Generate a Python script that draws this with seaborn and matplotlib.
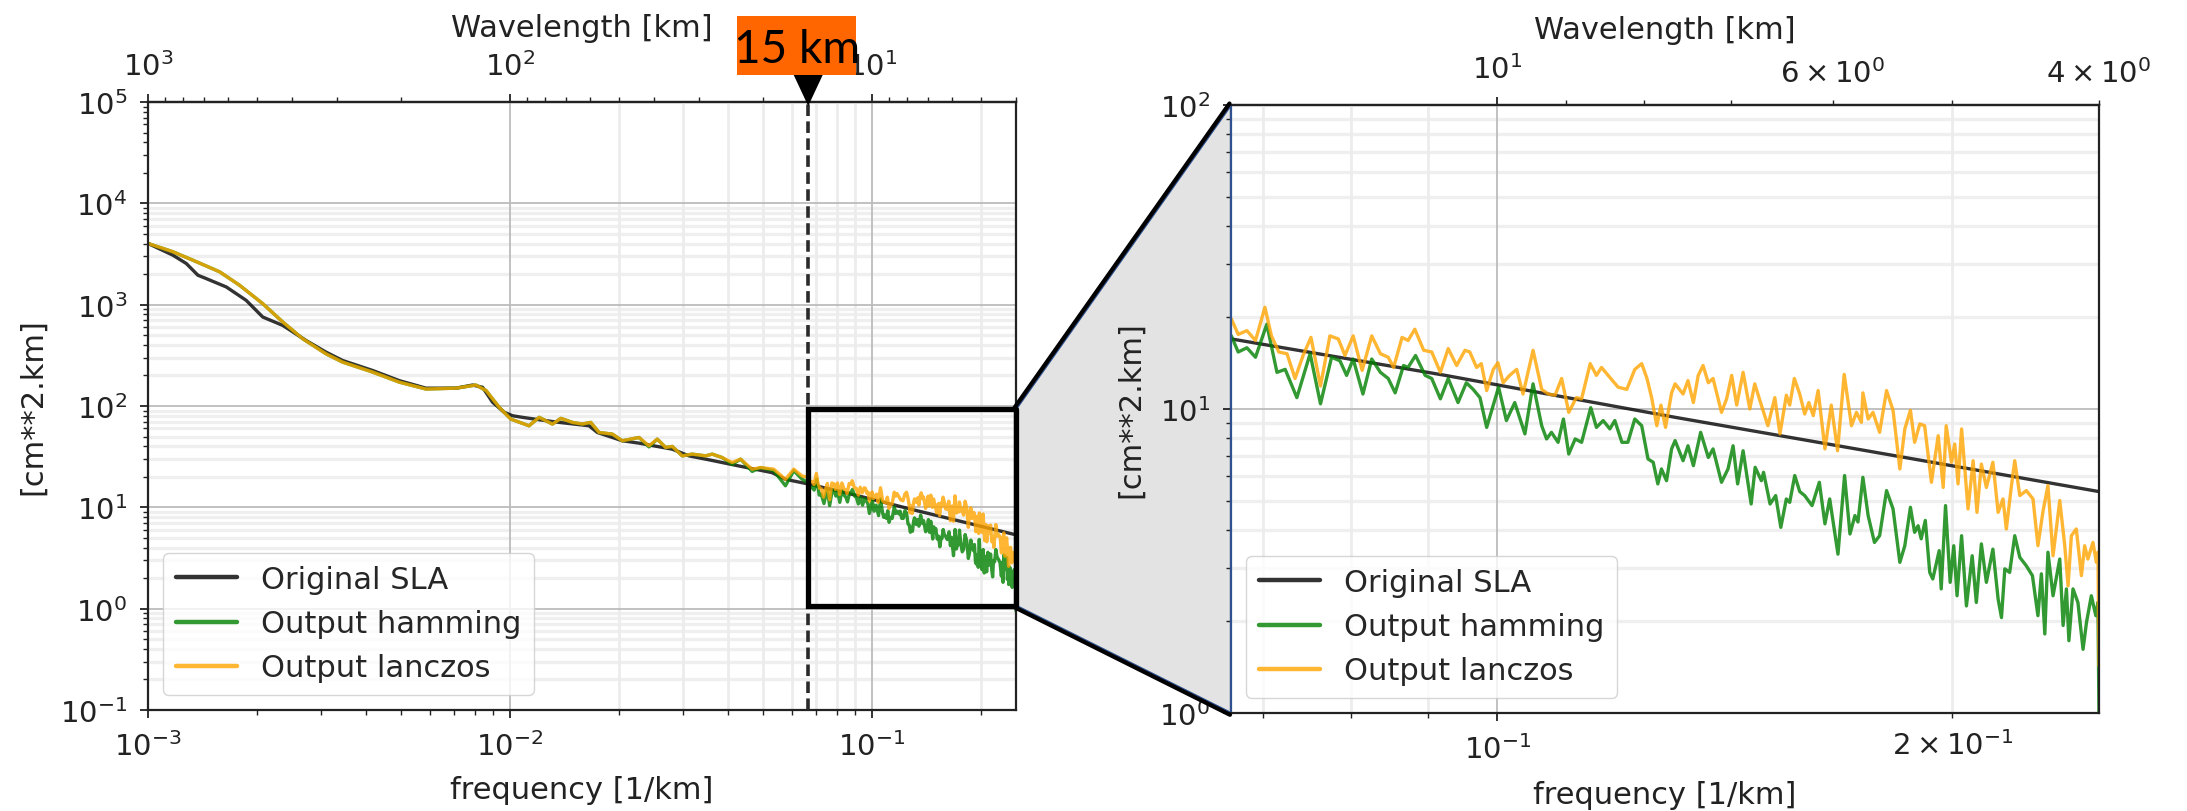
import numpy as np
import pandas as pd
import matplotlib
matplotlib.use("Agg")
import matplotlib.pyplot as plt
import seaborn as sns
from matplotlib.patches import Polygon, Rectangle
from matplotlib.lines import Line2D

# ---------------------------------------------------------------- data
series_names = ["Original SLA", "Output hamming", "Output lanczos"]
series_colors = ["black", "green", "orange"]

sla_freq = [1.0e-3, 1.172e-3, 1.276e-3, 1.374e-3, 1.449e-3, 1.645e-3, 1.867e-3,
            2.075e-3, 2.357e-3, 2.733e-3, 3.104e-3, 3.45e-3, 4.177e-3, 4.945e-3,
            5.861e-3, 7.096e-3, 7.88e-3, 8.40e-3, 8.95e-3, 9.64e-3, 1.016e-2,
            1.082e-2, 1.204e-2, 1.367e-2, 1.654e-2, 1.743e-2, 2.043e-2, 2.272e-2,
            2.807e-2, 3.122e-2, 3.471e-2, 4.289e-2, 5.297e-2, 5.768e-2, 0.0667,
            0.0924, 0.1311, 0.1832, 0.25]
sla_psd = [4018, 3076, 2547, 1951, 1807, 1496, 1104, 755, 624, 443, 340, 281, 224,
           178, 150, 150, 161, 153, 109, 86.7, 80.2, 77.3, 73.2, 68.9, 63.8, 54.8,
           45.4, 43.0, 37.5, 32.2, 29.9, 25.6, 22.0, 18.9, 17.0, 12.9, 9.39, 7.02, 5.35]

filtered_freq_low = [1.0e-3, 1.172e-3, 1.33e-3, 1.578e-3, 1.791e-3, 2.075e-3, 2.357e-3,
                     2.678e-3, 3.104e-3, 3.45e-3, 4.177e-3, 4.945e-3, 5.861e-3, 7.096e-3,
                     8.05e-3, 8.59e-3, 9.34e-3, 1.005e-2, 1.129e-2, 1.204e-2, 1.256e-2,
                     1.31e-2, 1.382e-2, 1.487e-2, 1.585e-2, 1.671e-2, 1.762e-2, 1.918e-2,
                     2.043e-2, 2.272e-2, 2.421e-2, 2.552e-2, 2.692e-2, 2.807e-2, 2.992e-2,
                     3.187e-2, 3.471e-2, 3.62e-2, 3.857e-2, 4.11e-2, 4.335e-2, 4.667e-2,
                     4.921e-2, 5.355e-2, 5.768e-2, 6.081e-2, 6.409e-2]
lanczos_psd_low = [4018, 3327, 2748, 2108, 1553, 1023, 674, 460, 327, 271, 216, 172,
                   147, 150, 161, 142, 97, 74.3, 63.8, 77.3, 71.6, 66.3, 75.5, 68.9,
                   66.3, 68.9, 54.8, 52.8, 45.4, 48.9, 40.5, 47.1, 39.0, 39.9, 32.2,
                   33.5, 32.2, 33.5, 31.0, 27.7, 29.9, 23.8, 24.7, 23.8, 18.9, 23.8, 20.4]
hamming_psd_low = [4018, 3327, 2748, 2108, 1553, 1023, 674, 460, 327, 271, 216, 172,
                   147, 150, 161, 142, 97, 74.3, 63.8, 77.3, 71.6, 66.3, 75.5, 68.9,
                   66.3, 68.9, 54.8, 52.8, 45.4, 48.9, 39.5, 47.1, 39.0, 39.9, 32.2,
                   33.5, 32.2, 33.5, 31.0, 26.5, 29.9, 22.6, 24.7, 23.0, 16.3, 23.0, 19.0]

lanczos_freq_high = [0.0667, 0.0674, 0.0683, 0.0692, 0.0702, 0.0709, 0.0717, 0.0726, 0.0735,
    0.0744, 0.0753, 0.0764, 0.0775, 0.0785, 0.0793, 0.0803, 0.0814, 0.0826, 0.0837, 0.0847,
    0.0854, 0.0865, 0.0873, 0.0882, 0.0894, 0.0905, 0.0917, 0.0928, 0.0940, 0.0952, 0.0959,
    0.0969, 0.0976, 0.0984, 0.0994, 0.1001, 0.1009, 0.1019, 0.1030, 0.1040, 0.1056, 0.1070,
    0.1081, 0.1092, 0.1103, 0.1115, 0.1128, 0.1137, 0.1152, 0.1163, 0.1172, 0.1187, 0.1202,
    0.1218, 0.1233, 0.1246, 0.1256, 0.1265, 0.1275, 0.1283, 0.1292, 0.1304, 0.1311, 0.1327,
    0.1337, 0.1348, 0.1358, 0.1368, 0.1379, 0.1389, 0.1407, 0.1418, 0.1429, 0.1440, 0.1454,
    0.1469, 0.1480, 0.1495, 0.1510, 0.1526, 0.1538, 0.1553, 0.1561, 0.1572, 0.1585, 0.1597,
    0.1607, 0.1618, 0.1630, 0.1647, 0.1663, 0.1679, 0.1696, 0.1715, 0.1728, 0.1741, 0.1745,
    0.1759, 0.1772, 0.1790, 0.1809, 0.1827, 0.1846, 0.1860, 0.1876, 0.1888, 0.1903, 0.1917,
    0.1937, 0.1957, 0.1972, 0.1981, 0.1997, 0.2007, 0.2017, 0.2028, 0.2048, 0.2064, 0.2076,
    0.2090, 0.2106, 0.2127, 0.2144, 0.2160, 0.2171, 0.2188, 0.2199, 0.2216, 0.2238, 0.2261,
    0.2278, 0.2296, 0.2313, 0.2331, 0.2355, 0.2373, 0.2385, 0.2397, 0.2415, 0.2434, 0.2446,
    0.2458, 0.2477, 0.2490, 0.2496, 0.2500]
lanczos_psd_high = [19.8, 17.6, 18.1, 16.8, 21.6, 17.4, 15.4, 15.2, 12.6, 15.0, 17.2, 11.9,
    17.4, 17.0, 15.0, 17.4, 13.4, 17.4, 15.2, 14.8, 13.7, 17.2, 16.8, 18.3, 15.6, 15.4, 13.2,
    15.8, 13.9, 15.6, 15.4, 13.7, 14.1, 11.5, 13.5, 14.2, 12.2, 12.9, 13.5, 11.2, 15.6, 11.6,
    11.2, 11.1, 12.6, 9.75, 10.9, 10.8, 14.1, 12.9, 13.7, 12.7, 11.8, 11.6, 13.5, 14.1, 12.6,
    10.9, 8.81, 10.3, 8.70, 11.3, 12.1, 11.2, 12.4, 10.5, 12.9, 13.9, 12.2, 12.6, 9.75, 10.8,
    12.9, 10.3, 13.2, 10.0, 12.1, 10.3, 8.81, 10.9, 8.28, 11.1, 10.3, 12.6, 11.2, 9.63, 10.5,
    9.51, 11.5, 7.39, 10.3, 7.29, 13.0, 8.81, 9.75, 9.04, 11.3, 9.27, 9.75, 8.38, 11.5, 9.9,
    6.35, 8.60, 9.9, 7.77, 8.93, 8.81, 5.74, 8.17, 5.52, 8.81, 6.68, 7.67, 5.67, 8.60, 4.69,
    6.76, 4.57, 6.59, 5.52, 6.68, 4.57, 5.06, 4.03, 5.60, 6.76, 5.19, 5.39, 5.06, 3.55, 4.63,
    5.60, 3.29, 5.0, 3.55, 2.62, 3.83, 4.03, 2.83, 3.55, 3.21, 3.64, 3.13, 3.38, 1.43]

hamming_freq_high = [0.0667, 0.0674, 0.0683, 0.0692, 0.0704, 0.0715, 0.0724, 0.0737, 0.0752,
    0.0764, 0.0777, 0.0787, 0.0795, 0.0803, 0.0815, 0.0826, 0.0837, 0.0847, 0.0856, 0.0867,
    0.0873, 0.0883, 0.0896, 0.0905, 0.0917, 0.0928, 0.0942, 0.0954, 0.0964, 0.0974, 0.0984,
    0.1002, 0.1014, 0.1027, 0.1043, 0.1056, 0.1070, 0.1078, 0.1086, 0.1097, 0.1106, 0.1115,
    0.1126, 0.1137, 0.1153, 0.1163, 0.1175, 0.1187, 0.1196, 0.1209, 0.1220, 0.1233, 0.1246,
    0.1258, 0.1268, 0.1277, 0.1284, 0.1294, 0.1304, 0.1311, 0.1327, 0.1337, 0.1348, 0.1363,
    0.1379, 0.1389, 0.1407, 0.1421, 0.1432, 0.1442, 0.1454, 0.1472, 0.1481, 0.1495, 0.1500,
    0.1515, 0.1528, 0.1540, 0.1553, 0.1561, 0.1573, 0.1585, 0.1597, 0.1615, 0.1633, 0.1647,
    0.1659, 0.1680, 0.1697, 0.1711, 0.1724, 0.1732, 0.1745, 0.1759, 0.1776, 0.1790, 0.1809,
    0.1827, 0.1846, 0.1860, 0.1876, 0.1888, 0.1898, 0.1907, 0.1919, 0.1932, 0.1941, 0.1960,
    0.1966, 0.1979, 0.1993, 0.2004, 0.2014, 0.2028, 0.2043, 0.2061, 0.2074, 0.2090, 0.2106,
    0.2127, 0.2144, 0.2155, 0.2166, 0.2182, 0.2199, 0.2216, 0.2238, 0.2259, 0.2278, 0.2290,
    0.2302, 0.2313, 0.2331, 0.2355, 0.2367, 0.2379, 0.2388, 0.2403, 0.2421, 0.2440, 0.2453,
    0.2471, 0.2488, 0.2496, 0.2500]
hamming_psd_high = [17.4, 15.4, 15.9, 14.8, 19.0, 13.2, 13.5, 10.9, 15.2, 10.4, 14.8, 14.4,
    12.9, 14.6, 11.2, 14.6, 13.2, 12.6, 11.3, 13.9, 13.7, 15.0, 12.9, 12.6, 10.8, 12.6, 10.5,
    12.2, 11.6, 10.9, 8.70, 11.8, 9.16, 10.5, 8.28, 12.1, 8.81, 7.97, 8.38, 7.77, 9.27, 7.11,
    7.97, 7.77, 10.1, 8.70, 9.16, 8.60, 9.16, 7.77, 7.77, 9.27, 8.81, 6.85, 6.68, 5.67, 6.35,
    5.81, 7.39, 7.87, 6.76, 7.57, 6.51, 8.38, 6.93, 7.39, 5.74, 6.35, 7.57, 5.67, 7.29, 4.87,
    6.43, 5.81, 6.19, 4.87, 5.19, 4.08, 5.06, 4.93, 6.04, 5.35, 5.19, 4.81, 5.74, 4.19, 5.06,
    3.33, 6.04, 3.88, 4.46, 4.25, 5.96, 4.46, 3.64, 3.83, 5.39, 4.69, 3.13, 3.55, 4.75, 3.93,
    4.13, 3.74, 4.30, 2.90, 2.76, 3.42, 2.56, 4.81, 2.69, 3.55, 2.43, 3.83, 2.25, 3.29, 2.31,
    3.60, 2.69, 3.46, 2.37, 2.06, 2.98, 2.90, 3.83, 3.25, 3.05, 2.83, 2.09, 2.87, 1.82, 3.38,
    2.43, 3.21, 1.94, 2.56, 1.73, 2.56, 2.31, 1.62, 1.99, 2.43, 2.09, 2.31, 0.95]

cutoff_wavelength = 15.0          # km
cutoff_label = "15 km"
main_freq_lim = (1e-3, 0.25)
main_psd_lim = (1e-1, 1e5)
zoom_freq_lim = (1 / 15, 0.25)
zoom_psd_lim = (1.0, 100.0)
box_psd = (1.07, 93.0)            # drawn zoom box on the left panel

# ---------------------------------------------------------------- frame
sns.set_theme(style="ticks")
plt.rcParams["font.family"] = ["DejaVu Sans"]
plt.rcParams["mathtext.fontset"] = "dejavusans"

W, H = 2187, 812
fig = plt.figure(figsize=(W / 100, H / 100), dpi=100)
fig.patch.set_facecolor("white")


def px_rect(l, t, r, b):
    return [l / W, 1 - b / H, (r - l) / W, (b - t) / H]


ax1 = fig.add_axes(px_rect(148, 103, 1016, 711))
ax2 = fig.add_axes(px_rect(1231, 106, 2099, 714))
ax2.set_zorder(2)

df = pd.concat([
    pd.DataFrame({"frequency": sla_freq, "psd": sla_psd, "series": series_names[0]}),
    pd.DataFrame({"frequency": filtered_freq_low + hamming_freq_high,
                  "psd": hamming_psd_low + hamming_psd_high, "series": series_names[1]}),
    pd.DataFrame({"frequency": filtered_freq_low + lanczos_freq_high,
                  "psd": lanczos_psd_low + lanczos_psd_high, "series": series_names[2]}),
], ignore_index=True)
palette = dict(zip(series_names, series_colors))


def inverse(x):
    x = np.asarray(x, dtype=float)
    with np.errstate(divide="ignore"):
        return 1.0 / x


panels = [(ax1, main_freq_lim, main_psd_lim, -0.116, -0.107, 1.1086),
          (ax2, zoom_freq_lim, zoom_psd_lim, -0.099, -0.110, 1.110)]

for ax, xlim, ylim, ylab_x, xlab_y, top_y in panels:
    sns.lineplot(data=df, x="frequency", y="psd", hue="series", hue_order=series_names,
                 palette=palette, estimator=None, sort=False, linewidth=2.4, alpha=0.8,
                 legend=False, ax=ax)
    ax.set_xscale("log")
    ax.set_yscale("log")
    ax.set_xlim(*xlim)
    ax.set_ylim(*ylim)
    ax.set_facecolor("white")
    for sp in ax.spines.values():
        sp.set_linewidth(1.6)
        sp.set_color("#222222")

    ax.tick_params(which="major", length=6, width=1.3, labelsize=21, pad=9, color="#222222",
                   labelcolor="#222222")
    ax.tick_params(which="minor", length=3.5, width=1.0, labelsize=21, pad=9, color="#222222",
                   labelcolor="#222222")

    ax.set_xlabel("frequency [1/km]", fontsize=22, color="#222222")
    ax.set_ylabel("[cm**2.km]", fontsize=22, color="#222222")
    ax.xaxis.set_label_coords(0.5, xlab_y)
    ax.yaxis.set_label_coords(ylab_x, 0.5)

    ax.grid(which="major", color="#bcbcbc", linewidth=1.3)
    for yv in ax.yaxis.get_minorticklocs():
        if ylim[0] < yv < ylim[1] and (ax is ax2 or yv < 1e4):
            ax.axhline(yv, color="#efefef", linewidth=2.4, zorder=0.3)
    for xv in ax.xaxis.get_minorticklocs():
        if xlim[0] < xv < xlim[1] and (ax is ax2 or xv > 1e-2):
            ax.axvline(xv, color="#ececec", linewidth=2.0, zorder=0.3)

    sec = ax.secondary_xaxis("top", functions=(inverse, inverse))
    sec.tick_params(which="major", length=6, width=1.3, labelsize=21, pad=9, color="#222222",
                    labelcolor="#222222")
    sec.tick_params(which="minor", length=3.5, width=1.0, labelsize=21, pad=9, color="#222222",
                    labelcolor="#222222")
    sec.set_xlabel("Wavelength [km]", fontsize=22, color="#222222")
    sec.xaxis.set_label_coords(0.5, top_y, transform=ax.transAxes)
    sec.spines["top"].set_linewidth(1.6)
    sec.spines["top"].set_color("#222222")

    handles = [Line2D([], [], color=c, lw=3.2, alpha=0.8) for c in series_colors]
    leg = ax.legend(handles, series_names, loc="lower left", fontsize=22, framealpha=0.8,
                    borderaxespad=0.5)

ax2.spines["left"].set_color("#2f528f")

# cutoff line and zoom box on the main panel
cutoff_freq = 1.0 / cutoff_wavelength
ax1.axvline(cutoff_freq, color="#2a2a2a", linewidth=2.6, linestyle=(0, (3.2, 1.5)), zorder=4)
ax1.add_patch(Rectangle((zoom_freq_lim[0], box_psd[0]), zoom_freq_lim[1] - zoom_freq_lim[0],
                        box_psd[1] - box_psd[0], transform=ax1.transData, fill=False,
                        edgecolor="black", linewidth=3.8, zorder=6, clip_on=False))

# connecting trapezoid between the panels
to_fig = fig.transFigure.inverted()
p1 = ax1.transData.transform((zoom_freq_lim[1], box_psd[1]))
p4 = ax1.transData.transform((zoom_freq_lim[1], box_psd[0]))
p2 = ax2.transAxes.transform((0, 1))
p3 = ax2.transAxes.transform((0, 0))
fig.add_artist(Polygon(to_fig.transform([p1, p2, p3, p4]), closed=True,
                       transform=fig.transFigure, facecolor="#e3e3e3",
                       edgecolor="#2f528f", linewidth=1.6, zorder=1))
for a, b, off in ((p1, p2, (-1.5, 1.5)), (p4, p3, (-1.0, -1.8))):
    pts = to_fig.transform([(a[0] + off[0], a[1] + off[1]), (b[0] + off[0], b[1] + off[1])])
    fig.add_artist(Line2D(pts[:, 0], pts[:, 1], transform=fig.transFigure, color="black",
                          linewidth=3.0, zorder=3, solid_capstyle="round"))
pts = to_fig.transform([p1, p4])
fig.add_artist(Line2D(pts[:, 0], pts[:, 1], transform=fig.transFigure, color="black",
                      linewidth=3.8, zorder=3))

# "15 km" flag above the cutoff
xc = ax1.transData.transform((cutoff_freq, 1.0))[0]
ytop_ax = ax1.transAxes.transform((0, 1))[1]
fig.add_artist(Rectangle(((xc - 71) / W, (H - 76) / H), 119 / W, 59 / H,
                         transform=fig.transFigure, facecolor="#FF6600", edgecolor="none",
                         zorder=4))
fig.text((xc - 11) / W, (H - 63) / H, cutoff_label, ha="center", va="baseline", fontsize=33,
         family=["Lato", "DejaVu Sans"], color="black", zorder=5)
fig.add_artist(Polygon([((xc - 14.5) / W, (H - 76) / H), ((xc + 14.5) / W, (H - 76) / H),
                        (xc / W, (ytop_ax - 4) / H)], closed=True, transform=fig.transFigure,
                       facecolor="black", edgecolor="none", zorder=4))

fig.savefig("out.png", dpi=100, facecolor="white")
